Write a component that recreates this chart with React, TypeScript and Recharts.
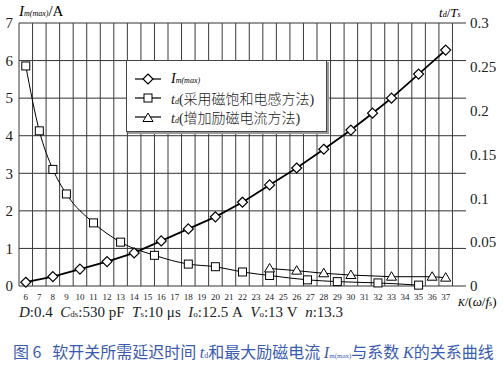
import { LineChart, Line, XAxis, YAxis, CartesianGrid, ReferenceLine } from "recharts";

// K values (x axis) and tick labels
const kTicks = [6, 7, 8, 9, 10, 11, 12, 13, 14, 15, 16, 17, 18, 19, 20, 21, 22, 23, 24, 25, 26, 27, 28, 29, 30, 31, 32, 33, 34, 35, 36, 37];
const leftTicks = [0, 1, 2, 3, 4, 5, 6, 7];
const rightTicks = [0, 0.05, 0.1, 0.15, 0.2, 0.25, 0.3];

// I_m(max) / A
const kIm = [6, 8, 10, 12, 14, 16, 18, 20, 22, 24, 26, 28, 30, 31.6, 33, 35, 37];
const imMax = [0.1, 0.25, 0.45, 0.65, 0.88, 1.2, 1.52, 1.84, 2.23, 2.69, 3.14, 3.64, 4.15, 4.6, 5.0, 5.64, 6.28];

// t_d / T_s, saturable inductor method
const kSat = [6, 7, 8, 9, 11, 13, 15.5, 18, 20, 22, 24, 26.8, 29, 32, 35];
const tdSat = [0.251, 0.177, 0.133, 0.105, 0.072, 0.05, 0.035, 0.025, 0.022, 0.016, 0.012, 0.007, 0.005, 0.0035, 0.001];

// t_d / T_s, increased magnetizing current method
const kExc = [24, 26, 28, 30, 33, 36, 37];
const tdExc = [0.02, 0.0175, 0.0145, 0.0125, 0.0106, 0.0106, 0.0095];

const imData = kIm.map((k, i) => ({ k, v: imMax[i] }));
const satData = kSat.map((k, i) => ({ k, v: tdSat[i] }));
const excData = kExc.map((k, i) => ({ k, v: tdExc[i] }));
const gridK = [...kTicks.map((k) => k - 0.5), kTicks[kTicks.length - 1] + 0.5];

const serif = "Liberation Serif";
const cjk = "Noto Sans CJK SC";

const Diamond = (props: any) => {
    const { cx, cy, index } = props;
    if (cx == null || cy == null) return <g key={`dm-${index}`} />;
    return (
        <path
            key={`dm-${index}`}
            d={`M${cx},${cy - 5}L${cx + 5},${cy}L${cx},${cy + 5}L${cx - 5},${cy}Z`}
            fill="#fff"
            stroke="#000"
            strokeWidth={1.2}
        />
    );
};

const Square = (props: any) => {
    const { cx, cy, index } = props;
    if (cx == null || cy == null) return <g key={`sq-${index}`} />;
    return <rect key={`sq-${index}`} x={cx - 4} y={cy - 4} width={8} height={8} fill="#fff" stroke="#000" strokeWidth={1} />;
};

const Triangle = (props: any) => {
    const { cx, cy, index } = props;
    if (cx == null || cy == null) return <g key={`tr-${index}`} />;
    return (
        <path
            key={`tr-${index}`}
            d={`M${cx},${cy - 5}L${cx + 5},${cy + 3.5}L${cx - 5},${cy + 3.5}Z`}
            fill="#fff"
            stroke="#000"
            strokeWidth={1}
        />
    );
};

function LegendRow({ marker, children }: { marker: "d" | "s" | "t"; children: any }) {
    return (
        <div style={{ display: "flex", alignItems: "center", height: 19 }}>
            <svg width={30} height={14} style={{ marginRight: 8 }}>
                <line x1={2} y1={7} x2={28} y2={7} stroke="#000" strokeWidth={1.2} />
                {marker === "d" && <Diamond cx={15} cy={7} index={0} />}
                {marker === "s" && <Square cx={15} cy={7} index={0} />}
                {marker === "t" && <Triangle cx={15} cy={8} index={0} />}
            </svg>
            {children}
        </div>
    );
}

export default function App() {
    return (
        <div style={{ position: "absolute", left: 0, top: 0, width: 504, height: 375, background: "#fff", fontFamily: serif }}>
            <LineChart width={504} height={306} margin={{ top: 23, right: 0, left: 0, bottom: 0 }} style={{ fontFamily: serif }}>
                <CartesianGrid yAxisId="left" vertical={false} stroke="#333" strokeWidth={1} />
                <XAxis
                    type="number"
                    dataKey="k"
                    domain={[5.5, 38.5]}
                    ticks={kTicks}
                    interval={0}
                    allowDataOverflow
                    axisLine={false}
                    tickLine={false}
                    tickSize={0}
                    tickMargin={8}
                    height={20}
                    tick={{ fontSize: 9, fill: "#222", fontFamily: serif }}
                />
                <YAxis
                    yAxisId="left"
                    domain={[0, 7]}
                    ticks={leftTicks}
                    width={19}
                    axisLine={false}
                    tickLine={false}
                    tickSize={0}
                    tickMargin={6}
                    tick={{ fontSize: 15, fill: "#222", fontFamily: serif }}
                />
                <YAxis
                    yAxisId="right"
                    orientation="right"
                    domain={[0, 0.3]}
                    ticks={rightTicks}
                    width={38}
                    axisLine={false}
                    tickLine={false}
                    tickSize={0}
                    tickMargin={4}
                    tick={{ fontSize: 15, fill: "#222", fontFamily: serif }}
                />
                {gridK.map((k) => (
                    <ReferenceLine key={k} x={k} yAxisId="left" stroke="#3a3a3a" strokeWidth={1} ifOverflow="visible" />
                ))}
                <Line
                    yAxisId="left"
                    data={imData}
                    dataKey="v"
                    type="linear"
                    stroke="#000"
                    strokeWidth={1.8}
                    dot={Diamond}
                    isAnimationActive={false}
                />
                <Line
                    yAxisId="right"
                    data={satData}
                    dataKey="v"
                    type="monotone"
                    stroke="#000"
                    strokeWidth={1}
                    dot={Square}
                    isAnimationActive={false}
                />
                <Line
                    yAxisId="right"
                    data={excData}
                    dataKey="v"
                    type="linear"
                    stroke="#000"
                    strokeWidth={1}
                    dot={Triangle}
                    isAnimationActive={false}
                />
            </LineChart>

            {/* axis titles */}
            <div style={{ position: "absolute", left: 19, top: 4, fontSize: 15, lineHeight: 1, whiteSpace: "nowrap" }}>
                <i>I</i>
                <i style={{ fontSize: 8 }}>m(max)</i>/A
            </div>
            <div style={{ position: "absolute", left: 439, top: 6, fontSize: 13, lineHeight: 1, whiteSpace: "nowrap" }}>
                <i>t</i>
                <i style={{ fontSize: 8 }}>d</i>/<i>T</i>
                <i style={{ fontSize: 8 }}>s</i>
            </div>
            <div style={{ position: "absolute", left: 458, top: 295, fontSize: 13, lineHeight: 1, whiteSpace: "nowrap" }}>
                <i style={{ fontSize: 10 }}>K</i>/(<i>ω</i>/<i>f</i>
                <i style={{ fontSize: 8 }}>s</i>)
            </div>

            {/* legend */}
            <div
                style={{
                    position: "absolute",
                    left: 126,
                    top: 60,
                    width: 201,
                    height: 72,
                    boxSizing: "border-box",
                    background: "#fff",
                    border: "1px solid #444",
                    boxShadow: "2px 2px 0 #999",
                    padding: "8px 0 0 6px",
                }}
            >
                <LegendRow marker="d">
                    <span style={{ fontSize: 14 }}>
                        <i>I</i>
                        <i style={{ fontSize: 8 }}>m(max)</i>
                    </span>
                </LegendRow>
                <LegendRow marker="s">
                    <span style={{ fontSize: 14, color: "#222" }}>
                        <i>t</i>
                        <i style={{ fontSize: 8 }}>d</i>(<span style={{ fontFamily: cjk, fontWeight: 300 }}>采用磁饱和电感方法</span>)
                    </span>
                </LegendRow>
                <LegendRow marker="t">
                    <span style={{ fontSize: 14, color: "#222" }}>
                        <i>t</i>
                        <i style={{ fontSize: 8 }}>d</i>(<span style={{ fontFamily: cjk, fontWeight: 300 }}>增加励磁电流方法</span>)
                    </span>
                </LegendRow>
            </div>

            {/* parameters */}
            <div style={{ position: "absolute", left: 19, top: 305, fontSize: 15, lineHeight: 1, whiteSpace: "nowrap", color: "#222" }}>
                <i>D</i>:0.4&nbsp;&nbsp;<i>C</i>
                <span style={{ fontSize: 9 }}>ds</span>:530&nbsp;pF&nbsp;&nbsp;<i>T</i>
                <span style={{ fontSize: 9 }}>s</span>:10&nbsp;μs&nbsp;&nbsp;<i>I</i>
                <span style={{ fontSize: 9 }}>o</span>:12.5&nbsp;A&nbsp;&nbsp;<i>V</i>
                <span style={{ fontSize: 9 }}>o</span>:13&nbsp;V&nbsp;&nbsp;<i>n</i>:13.3
            </div>

            {/* caption */}
            <div style={{ position: "absolute", left: 13, top: 343, fontSize: 16, lineHeight: 1, whiteSpace: "nowrap", color: "#3a5cb0", fontFamily: cjk }}>
                图 6&nbsp;&nbsp;&nbsp;软开关所需延迟时间 <i style={{ fontFamily: serif }}>t</i>
                <span style={{ fontSize: 8, fontFamily: serif }}>d</span>和最大励磁电流 <i style={{ fontFamily: serif }}>I</i>
                <span style={{ fontSize: 7, fontFamily: serif }}>m(max)</span>与系数 <i style={{ fontFamily: serif }}>K</i>的关系曲线
            </div>
        </div>
    );
}
